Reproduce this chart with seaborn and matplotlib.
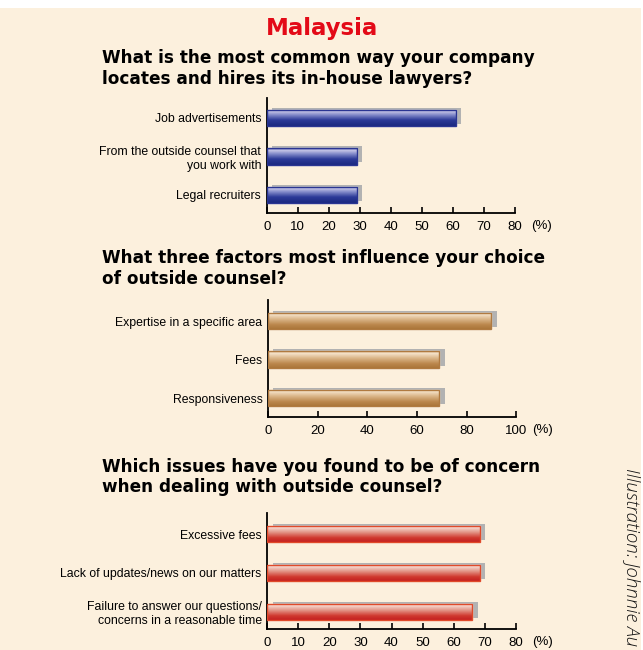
import numpy as np
import pandas as pd
import matplotlib
matplotlib.use("Agg")
import matplotlib.pyplot as plt
import matplotlib.patheffects as pe
from matplotlib.colors import LinearSegmentedColormap
from matplotlib.patches import Rectangle
import seaborn as sns

# Chart data
hire_labels = ["Job advertisements", "From the outside counsel that\nyou work with", "Legal recruiters"]
hire_values = [61, 29, 29]

factor_labels = ["Expertise in a specific area", "Fees", "Responsiveness"]
factor_values = [90, 69, 69]

concern_labels = ["Excessive fees", "Lack of updates/news on our matters",
                  "Failure to answer our questions/\nconcerns in a reasonable time"]
concern_values = [68.5, 68.5, 66]

questions = [
    ["What is the most common way your company", "locates and hires its in-house lawyers?"],
    ["What three factors most influence your choice", "of outside counsel?"],
    ["Which issues have you found to be of concern", "when dealing with outside counsel?"],
]

W, H = 643, 650
BG = "#fcf0dd"

sns.set_theme(style="white")
plt.rcParams["font.family"] = ["Liberation Sans", "DejaVu Sans"]
plt.rcParams["text.color"] = "black"
plt.rcParams["xtick.color"] = "black"
plt.rcParams["ytick.color"] = "black"

fig = plt.figure(figsize=(W / 100, H / 100), dpi=100)
fig.patch.set_facecolor("white")
fig.patches.append(Rectangle((0, 0), 641 / W, 1 - 8 / H, transform=fig.transFigure,
                             facecolor=BG, edgecolor="none", zorder=-10))


def px_axes(left, right, top, bottom):
    return fig.add_axes([left / W, 1 - bottom / H, (right - left) / W, (bottom - top) / H])


# gradient colormaps (top -> bottom of each bar)
cmap_blue = LinearSegmentedColormap.from_list("b", [(0, "#4a55a8"), (0.12, "#c8c8e8"), (0.35, "#8088c8"),
                                                    (0.65, "#2c3a98"), (1, "#1b2880")])
cmap_brown = LinearSegmentedColormap.from_list("br", [(0, "#d8b48a"), (0.12, "#f6e4cc"), (0.4, "#dcb88c"),
                                                      (0.75, "#bb874c"), (1, "#ab763a")])
cmap_red = LinearSegmentedColormap.from_list("r", [(0, "#e87a6a"), (0.12, "#f8dcd4"), (0.4, "#e49a8c"),
                                                   (0.75, "#d03a30"), (1, "#c42020")])

panels = [
    (hire_labels, hire_values, 80, [0, 10, 20, 30, 40, 50, 60, 70, 80], cmap_blue, "#2a3592",
     (266.7, 515.0, 98, 213), (-0.52, 2.47)),
    (factor_labels, factor_values, 100, [0, 20, 40, 60, 80, 100], cmap_brown, "#b07a40",
     (268.0, 516.3, 300, 417), (-0.545, 2.49)),
    (concern_labels, concern_values, 80, [0, 10, 20, 30, 40, 50, 60, 70, 80], cmap_red, "#e04a2a",
     (267.3, 515.7, 513, 629), (-0.54, 2.44)),
]

grad = np.linspace(0, 1, 64).reshape(-1, 1)

for labels, values, xmax, ticks, cmap, edge, box, ylim in panels:
    ax = px_axes(*box)
    ax.set_facecolor("none")
    df = pd.DataFrame({"label": labels, "value": values})
    sns.barplot(data=df, x="value", y="label", orient="h", color="#888888", width=0.42,
                ax=ax, zorder=2)
    for p in ax.patches:
        p.set_path_effects([pe.SimplePatchShadow(offset=(3.8, 1.5), shadow_rgbFace="#b2b2b2", alpha=1.0),
                            pe.Normal()])
        x0, y0, w, h = p.get_x(), p.get_y(), p.get_width(), p.get_height()
        im = ax.imshow(grad, cmap=cmap, aspect="auto", origin="upper",
                       extent=(x0, x0 + w, y0 + h, y0), zorder=2.5, interpolation="bilinear")
        im.set_clip_path(p)
        ax.add_patch(Rectangle((x0, y0), w, h, fill=False, edgecolor=edge, lw=1.0, zorder=3))
    ax.set_xlim(0, xmax)
    ax.set_ylim(ylim[1], ylim[0])
    ax.set_xticks(ticks)
    ax.set_xticklabels([str(t) for t in ticks], fontsize=9.5)
    ax.set_xlabel("")
    ax.set_ylabel("")
    ax.tick_params(axis="y", length=0, pad=4, labelsize=8.8)
    ax.tick_params(axis="x", length=4, width=1.2, direction="in", pad=6, colors="black")
    ax.tick_params(axis="x", which="both", bottom=True, top=False)
    for t in ax.get_yticklabels():
        t.set_multialignment("right")
    for s in ["top", "right"]:
        ax.spines[s].set_visible(False)
    for s in ["left", "bottom"]:
        ax.spines[s].set_color("black")
        ax.spines[s].set_linewidth(1.3)
    ax.annotate("(%)", xy=(1, 0), xycoords="axes fraction", xytext=(11.5, -9.6),
                textcoords="offset points", ha="left", va="center", fontsize=9.5)

fig.text(322 / W, 1 - 28 / H, "Malaysia", color="#e30a17", fontsize=16.5, fontweight="bold",
         family="DejaVu Sans", ha="center", va="center")

for (l1, l2), y in zip(questions, [58, 258, 467]):
    fig.text(102 / W, 1 - y / H, l1, fontsize=12.2, fontweight="bold", family="DejaVu Sans",
             ha="left", va="center")
    fig.text(102 / W, 1 - (y + 20.5) / H, l2, fontsize=12.2, fontweight="bold", family="DejaVu Sans",
             ha="left", va="center")

fig.text(632 / W, 1 - 468 / H, "Illustration: Johnnie Au", rotation=-90, fontsize=13.5,
         style="italic", family=["Open Sans", "DejaVu Sans"], fontweight="light",
         ha="center", va="top", color="#111111")

fig.savefig("out.png", dpi=100, facecolor=fig.get_facecolor())
